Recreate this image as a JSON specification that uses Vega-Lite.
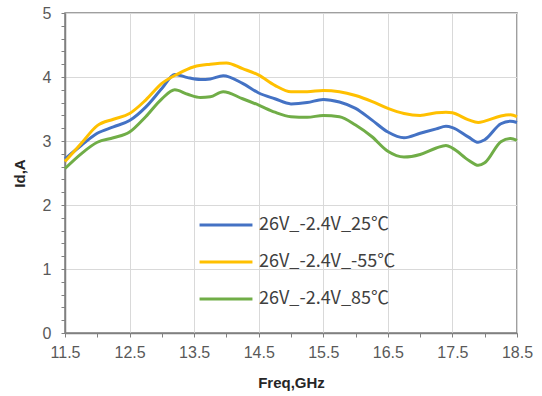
{
  "$schema": "https://vega.github.io/schema/vega-lite/v6.json",
  "width": 452,
  "height": 320,
  "autosize": "none",
  "padding": {"left": 65, "top": 13, "right": 25, "bottom": 63},
  "background": "white",
  "config": {
    "font": "Liberation Sans",
    "view": {"stroke": "#808080", "strokeWidth": 1.5}
  },
  "data": {
    "values": [
      {"f": 11.5, "v": 2.72, "s": "26V_-2.4V_25℃"},
      {"f": 11.75, "v": 2.93, "s": "26V_-2.4V_25℃"},
      {"f": 12.0, "v": 3.12, "s": "26V_-2.4V_25℃"},
      {"f": 12.25, "v": 3.22, "s": "26V_-2.4V_25℃"},
      {"f": 12.5, "v": 3.32, "s": "26V_-2.4V_25℃"},
      {"f": 12.75, "v": 3.53, "s": "26V_-2.4V_25℃"},
      {"f": 13.0, "v": 3.82, "s": "26V_-2.4V_25℃"},
      {"f": 13.2, "v": 4.04, "s": "26V_-2.4V_25℃"},
      {"f": 13.4, "v": 3.99, "s": "26V_-2.4V_25℃"},
      {"f": 13.6, "v": 3.96, "s": "26V_-2.4V_25℃"},
      {"f": 13.75, "v": 3.97, "s": "26V_-2.4V_25℃"},
      {"f": 13.95, "v": 4.02, "s": "26V_-2.4V_25℃"},
      {"f": 14.25, "v": 3.90, "s": "26V_-2.4V_25℃"},
      {"f": 14.5, "v": 3.75, "s": "26V_-2.4V_25℃"},
      {"f": 14.75, "v": 3.66, "s": "26V_-2.4V_25℃"},
      {"f": 15.0, "v": 3.58, "s": "26V_-2.4V_25℃"},
      {"f": 15.25, "v": 3.60, "s": "26V_-2.4V_25℃"},
      {"f": 15.5, "v": 3.65, "s": "26V_-2.4V_25℃"},
      {"f": 15.75, "v": 3.61, "s": "26V_-2.4V_25℃"},
      {"f": 16.0, "v": 3.51, "s": "26V_-2.4V_25℃"},
      {"f": 16.25, "v": 3.33, "s": "26V_-2.4V_25℃"},
      {"f": 16.5, "v": 3.14, "s": "26V_-2.4V_25℃"},
      {"f": 16.75, "v": 3.05, "s": "26V_-2.4V_25℃"},
      {"f": 17.0, "v": 3.12, "s": "26V_-2.4V_25℃"},
      {"f": 17.25, "v": 3.19, "s": "26V_-2.4V_25℃"},
      {"f": 17.4, "v": 3.23, "s": "26V_-2.4V_25℃"},
      {"f": 17.5, "v": 3.21, "s": "26V_-2.4V_25℃"},
      {"f": 17.75, "v": 3.06, "s": "26V_-2.4V_25℃"},
      {"f": 17.9, "v": 2.98, "s": "26V_-2.4V_25℃"},
      {"f": 18.0, "v": 3.02, "s": "26V_-2.4V_25℃"},
      {"f": 18.25, "v": 3.27, "s": "26V_-2.4V_25℃"},
      {"f": 18.4, "v": 3.31, "s": "26V_-2.4V_25℃"},
      {"f": 18.5, "v": 3.29, "s": "26V_-2.4V_25℃"},

      {"f": 11.5, "v": 2.68, "s": "26V_-2.4V_-55℃"},
      {"f": 11.75, "v": 2.96, "s": "26V_-2.4V_-55℃"},
      {"f": 12.0, "v": 3.24, "s": "26V_-2.4V_-55℃"},
      {"f": 12.25, "v": 3.34, "s": "26V_-2.4V_-55℃"},
      {"f": 12.5, "v": 3.43, "s": "26V_-2.4V_-55℃"},
      {"f": 12.75, "v": 3.64, "s": "26V_-2.4V_-55℃"},
      {"f": 13.0, "v": 3.90, "s": "26V_-2.4V_-55℃"},
      {"f": 13.25, "v": 4.05, "s": "26V_-2.4V_-55℃"},
      {"f": 13.5, "v": 4.16, "s": "26V_-2.4V_-55℃"},
      {"f": 13.75, "v": 4.20, "s": "26V_-2.4V_-55℃"},
      {"f": 14.0, "v": 4.22, "s": "26V_-2.4V_-55℃"},
      {"f": 14.25, "v": 4.13, "s": "26V_-2.4V_-55℃"},
      {"f": 14.5, "v": 4.03, "s": "26V_-2.4V_-55℃"},
      {"f": 14.75, "v": 3.87, "s": "26V_-2.4V_-55℃"},
      {"f": 15.0, "v": 3.77, "s": "26V_-2.4V_-55℃"},
      {"f": 15.25, "v": 3.77, "s": "26V_-2.4V_-55℃"},
      {"f": 15.5, "v": 3.79, "s": "26V_-2.4V_-55℃"},
      {"f": 15.75, "v": 3.77, "s": "26V_-2.4V_-55℃"},
      {"f": 16.0, "v": 3.71, "s": "26V_-2.4V_-55℃"},
      {"f": 16.25, "v": 3.62, "s": "26V_-2.4V_-55℃"},
      {"f": 16.5, "v": 3.51, "s": "26V_-2.4V_-55℃"},
      {"f": 16.75, "v": 3.43, "s": "26V_-2.4V_-55℃"},
      {"f": 17.0, "v": 3.40, "s": "26V_-2.4V_-55℃"},
      {"f": 17.25, "v": 3.44, "s": "26V_-2.4V_-55℃"},
      {"f": 17.4, "v": 3.45, "s": "26V_-2.4V_-55℃"},
      {"f": 17.5, "v": 3.44, "s": "26V_-2.4V_-55℃"},
      {"f": 17.75, "v": 3.33, "s": "26V_-2.4V_-55℃"},
      {"f": 17.9, "v": 3.29, "s": "26V_-2.4V_-55℃"},
      {"f": 18.0, "v": 3.31, "s": "26V_-2.4V_-55℃"},
      {"f": 18.25, "v": 3.39, "s": "26V_-2.4V_-55℃"},
      {"f": 18.4, "v": 3.41, "s": "26V_-2.4V_-55℃"},
      {"f": 18.5, "v": 3.38, "s": "26V_-2.4V_-55℃"},

      {"f": 11.5, "v": 2.57, "s": "26V_-2.4V_85℃"},
      {"f": 11.75, "v": 2.80, "s": "26V_-2.4V_85℃"},
      {"f": 12.0, "v": 2.98, "s": "26V_-2.4V_85℃"},
      {"f": 12.25, "v": 3.05, "s": "26V_-2.4V_85℃"},
      {"f": 12.5, "v": 3.14, "s": "26V_-2.4V_85℃"},
      {"f": 12.75, "v": 3.38, "s": "26V_-2.4V_85℃"},
      {"f": 13.0, "v": 3.66, "s": "26V_-2.4V_85℃"},
      {"f": 13.2, "v": 3.80, "s": "26V_-2.4V_85℃"},
      {"f": 13.4, "v": 3.73, "s": "26V_-2.4V_85℃"},
      {"f": 13.6, "v": 3.68, "s": "26V_-2.4V_85℃"},
      {"f": 13.75, "v": 3.69, "s": "26V_-2.4V_85℃"},
      {"f": 13.95, "v": 3.77, "s": "26V_-2.4V_85℃"},
      {"f": 14.25, "v": 3.66, "s": "26V_-2.4V_85℃"},
      {"f": 14.5, "v": 3.56, "s": "26V_-2.4V_85℃"},
      {"f": 14.75, "v": 3.45, "s": "26V_-2.4V_85℃"},
      {"f": 15.0, "v": 3.38, "s": "26V_-2.4V_85℃"},
      {"f": 15.25, "v": 3.37, "s": "26V_-2.4V_85℃"},
      {"f": 15.5, "v": 3.40, "s": "26V_-2.4V_85℃"},
      {"f": 15.75, "v": 3.38, "s": "26V_-2.4V_85℃"},
      {"f": 16.0, "v": 3.25, "s": "26V_-2.4V_85℃"},
      {"f": 16.25, "v": 3.07, "s": "26V_-2.4V_85℃"},
      {"f": 16.5, "v": 2.84, "s": "26V_-2.4V_85℃"},
      {"f": 16.75, "v": 2.75, "s": "26V_-2.4V_85℃"},
      {"f": 17.0, "v": 2.79, "s": "26V_-2.4V_85℃"},
      {"f": 17.25, "v": 2.89, "s": "26V_-2.4V_85℃"},
      {"f": 17.4, "v": 2.93, "s": "26V_-2.4V_85℃"},
      {"f": 17.5, "v": 2.89, "s": "26V_-2.4V_85℃"},
      {"f": 17.75, "v": 2.70, "s": "26V_-2.4V_85℃"},
      {"f": 17.9, "v": 2.62, "s": "26V_-2.4V_85℃"},
      {"f": 18.0, "v": 2.66, "s": "26V_-2.4V_85℃"},
      {"f": 18.25, "v": 2.99, "s": "26V_-2.4V_85℃"},
      {"f": 18.4, "v": 3.04, "s": "26V_-2.4V_85℃"},
      {"f": 18.5, "v": 3.01, "s": "26V_-2.4V_85℃"}
    ]
  },
  "mark": {"type": "line", "strokeWidth": 3, "interpolate": "monotone"},
  "encoding": {
    "x": {
      "field": "f",
      "type": "quantitative",
      "scale": {"domain": [11.5, 18.5], "nice": false, "zero": false},
      "axis": {
        "title": "Freq,GHz",
        "values": [11.5, 12, 12.5, 13, 13.5, 14, 14.5, 15, 15.5, 16, 16.5, 17, 17.5, 18, 18.5],
        "labelExpr": "datum.value % 1 === 0.5 ? format(datum.value, '.1f') : ''",
        "labelOverlap": false,
        "labelFontSize": 16,
        "labelColor": "#595959",
        "labelPadding": 7,
        "labelFlush": false,
        "tickSize": 4,
        "tickColor": "#808080",
        "domainColor": "#808080",
        "domainWidth": 1.5,
        "gridColor": "#d9d9d9",
        "gridWidth": 1,
        "gridOpacity": {"condition": {"test": "datum.value % 1 === 0.5", "value": 1}, "value": 0},
        "titleFontSize": 15,
        "titleFontWeight": "bold",
        "titleColor": "#262626",
        "titlePadding": 15
      }
    },
    "y": {
      "field": "v",
      "type": "quantitative",
      "scale": {"domain": [0, 5], "nice": false},
      "axis": {
        "title": "Id,A",
        "values": [0, 0.2, 0.4, 0.6, 0.8, 1, 1.2, 1.4, 1.6, 1.8, 2, 2.2, 2.4, 2.6, 2.8, 3, 3.2, 3.4, 3.6, 3.8, 4, 4.2, 4.4, 4.6, 4.8, 5],
        "labelExpr": "round(datum.value) === datum.value ? format(datum.value, 'd') : ''",
        "labelOverlap": false,
        "labelFontSize": 16,
        "labelColor": "#595959",
        "labelPadding": 10,
        "labelFlush": false,
        "tickSize": 4,
        "tickColor": "#808080",
        "domainColor": "#808080",
        "domainWidth": 1.5,
        "gridColor": "#d9d9d9",
        "gridWidth": 1,
        "gridOpacity": {"condition": {"test": "round(datum.value) === datum.value", "value": 1}, "value": 0},
        "titleFontSize": 15,
        "titleFontWeight": "bold",
        "titleColor": "#262626",
        "titlePadding": 15
      }
    },
    "color": {
      "field": "s",
      "type": "nominal",
      "sort": ["26V_-2.4V_25℃", "26V_-2.4V_-55℃", "26V_-2.4V_85℃"],
      "scale": {
        "domain": ["26V_-2.4V_25℃", "26V_-2.4V_-55℃", "26V_-2.4V_85℃"],
        "range": ["#4472C4", "#FFC000", "#70AD47"]
      },
      "legend": {
        "title": null,
        "orient": "none",
        "legendX": 133,
        "legendY": 184,
        "padding": 0,
        "symbolType": "stroke",
        "symbolSize": 2800,
        "symbolStrokeWidth": 3,
        "labelFont": "Noto Sans CJK SC",
        "labelFontSize": 18,
        "labelColor": "#404040",
        "labelOffset": 5,
        "rowPadding": -9,
        "labelLimit": 300
      }
    }
  }
}
